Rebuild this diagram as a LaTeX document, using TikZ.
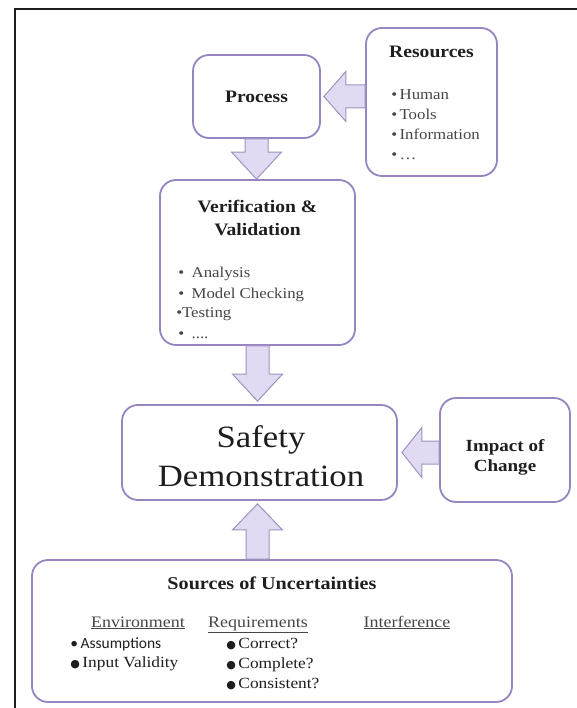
\documentclass[tikz,border=0pt]{standalone}
\usepackage{fontspec}
\setmainfont{Liberation Serif}[FakeStretch=1.12]
\newfontfamily\calfont{Carlito}
\newfontfamily\dotfont{DejaVu Sans}
\usetikzlibrary{calc}
\definecolor{boxline}{RGB}{152,132,192}
\definecolor{arrowfill}{RGB}{226,218,242}
\definecolor{arrowline}{RGB}{158,146,190}
\definecolor{ink}{RGB}{30,30,30}
\definecolor{listink}{RGB}{70,70,70}
% block arrow from tail #2 to tip #3, head length #1
\newcommand{\fatarrow}[3][24pt]{%
  \coordinate (fathead) at ($(#3)!#1!(#2)$);
  \draw[fat] ($(#2)!11.5pt!90:(#3)$) -- ($(fathead)!11.5pt!90:(#3)$)
    -- ($(fathead)!25pt!90:(#3)$) -- (#3) -- ($(fathead)!25pt!-90:(#3)$)
    -- ($(fathead)!11.5pt!-90:(#3)$) -- ($(#2)!11.5pt!-90:(#3)$) -- cycle;}
\begin{document}
\begin{tikzpicture}[x=1pt, y=-1pt, line width=0.5pt,
    box/.style={draw=boxline, line width=1.8pt, rounded corners=16pt, fill=white, inner sep=0pt},
    fat/.style={draw=arrowline, fill=arrowfill, line width=1pt},
    head/.style={font=\fontsize{17.5}{23}\selectfont\bfseries, text=ink, align=center, inner sep=0pt},
    item/.style={font=\fontsize{15}{18}\selectfont, text=listink, anchor=base west, inner sep=0pt},
    sub/.style={font=\fontsize{16}{18}\selectfont, text=listink, anchor=base, inner sep=0pt}]
    \useasboundingbox (0,0) rectangle (577,708);
    \draw[line width=2pt, ink] (15,708) -- (15,9) -- (577,9);
    % boxes
    \draw (256.5,96.5)node[box, minimum width=127, minimum height=83, name=proc]{};
    \draw (431.5,102)node[box, minimum width=131, minimum height=148, name=res]{};
    \draw (257.5,262.5)node[box, minimum width=195, minimum height=165, name=vv]{};
    \draw (259.5,452.5)node[box, minimum width=275, minimum height=95, name=safe]{};
    \draw (505,450)node[box, minimum width=130, minimum height=104, name=imp]{};
    \draw (272,631)node[box, minimum width=480, minimum height=142, name=src]{};
    % arrows
    \coordinate (a1) at (res.west |- proc.east);
    \coordinate (b1) at ($(proc.east)+(3,0)$);
    \fatarrow[22pt]{a1}{b1}
    \coordinate (a2) at (proc.south);
    \coordinate (b2) at (proc.south |- vv.north);
    \fatarrow[27pt]{a2}{b2}
    \coordinate (a3) at (vv.south);
    \coordinate (b3) at ($(vv.south |- safe.north)+(0,-3)$);
    \fatarrow[27pt]{a3}{b3}
    \coordinate (a4) at (imp.west |- safe.east);
    \coordinate (b4) at ($(safe.east)+(4,0)$);
    \fatarrow[20pt]{a4}{b4}
    \coordinate (a5) at (vv.south |- src.north);
    \coordinate (b5) at ($(vv.south |- safe.south)+(0,3)$);
    \fatarrow[26pt]{a5}{b5}
    % texts
    \draw (256.5,96.5)node[head, name=proct]{Process};
    \draw (431.5,52)node[head, name=rest]{Resources};
    \foreach \t [count=\i] in {Human, Tools, Information, \ldots}
        \draw (391,80+20*\i)node[item, name=resi\i]{\textbullet\,\t};
    \draw (257.5,218)node[head, name=vvt]{Verification \&\\Validation};
    \draw (178,277)node[item, name=vvi1]{\textbullet\enspace Analysis};
    \draw (178,298)node[item, name=vvi2]{\textbullet\enspace Model Checking};
    \draw (176,317)node[item, name=vvi3]{\textbullet Testing};
    \draw (178,338)node[item, name=vvi4]{\textbullet\enspace ....};
    \draw (261,456)node[font=\fontsize{31}{39}\selectfont, text=ink, align=center, inner sep=0pt, name=safet]{Safety\\Demonstration};
    \draw (505,457)node[head, font=\fontsize{17}{20}\selectfont\bfseries, name=impt]{Impact of\\Change};
    \draw (272,583)node[head, font=\fontsize{18}{20}\selectfont\bfseries, name=srct]{Sources of Uncertainties};
    \draw (138,627)node[sub, name=env]{\underline{Environment}};
    \draw (258,627)node[sub, name=req]{\underline{Requirements}};
    \draw (407,627)node[sub, name=intf]{\underline{Interference}};
    \draw (70,648)node[item, font=\fontsize{15.5}{18}\selectfont\calfont, text=ink, name=envi1]{\textbullet\,Assumptions};
    \draw (70,667)node[item, font=\fontsize{15.5}{18}\selectfont, text=ink, name=envi2]{{\dotfont\fontsize{11}{12}\selectfont ●}\,Input Validity};
    \foreach \t [count=\i] in {Correct?, Complete?, Consistent?}
        \draw (226,628+20*\i)node[item, font=\fontsize{15.5}{18}\selectfont, text=ink, name=reqi\i]{{\dotfont\fontsize{11}{12}\selectfont ●}\,\t};
\end{tikzpicture}
\end{document}
